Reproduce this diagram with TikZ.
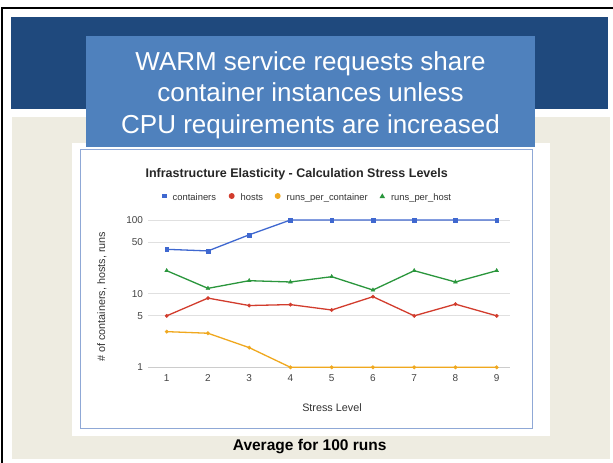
\documentclass[tikz,border=0pt]{standalone}
\usepackage{fontspec}
\setmainfont{Liberation Sans}
\usetikzlibrary{shapes.geometric, plotmarks}

\definecolor{bandblue}{HTML}{1F497D}
\definecolor{boxblue}{HTML}{4F81BD}
\definecolor{boxedge}{HTML}{C5D6EC}
\definecolor{paper}{HTML}{EEECE1}
\definecolor{chartframe}{HTML}{8FA8D6}
\definecolor{gridgray}{HTML}{E0E0E0}
\definecolor{basegray}{HTML}{CCCCCC}
\definecolor{labelgray}{HTML}{444444}
\definecolor{cblue}{HTML}{3F68D0}
\definecolor{cred}{HTML}{D23C2D}
\definecolor{corange}{HTML}{F0A81E}
\definecolor{cgreen}{HTML}{2A963C}

\tikzset{
  titletxt/.style={font=\fontsize{26}{30}\selectfont, text=white},
  charttitle/.style={font=\fontsize{12.5}{14}\selectfont\bfseries, text=black!85},
  legtxt/.style={font=\fontsize{9.4}{11}\selectfont, text=black!80},
  ticklbl/.style={font=\fontsize{10}{12}\selectfont, text=labelgray},
  axistitle/.style={font=\fontsize{10.8}{12}\selectfont, text=black!80},
  caption/.style={font=\fontsize{15.5}{18}\selectfont\bfseries, text=black},
  gridline/.style={gridgray, line width=0.9pt},
  series/.style={line width=1.3pt, mark options={solid, line width=0.3pt}},
}

\begin{document}
\begin{tikzpicture}[x=1pt, y=-1pt, every node/.style={inner sep=0pt, outer sep=0pt}]
\useasboundingbox (0,0) rectangle (613,463);
\fill[white] (0,0) rectangle (613,463);

% page frame (top and left edges)
\coordinate (fTL) at (1.8,8.2);
\coordinate (fTR) at (613,8.2);
\coordinate (fBL) at (1.8,463);
\draw[line width=1.7pt] (fTR) -- (fTL) -- (fBL);

% header band and slide body
\fill[bandblue] (11,17) rectangle (608,109);
\fill[paper] (12,117) rectangle (610,459.3);

% chart panel
\fill[white] (72,143) rectangle (550,436);
\draw[chartframe, line width=1pt] (80,149) rectangle (532,428);

% banner with the headline
\node[anchor=north west, minimum width=447pt, minimum height=109pt,
      fill=boxblue, draw=boxedge, double=boxblue, double distance=1.3pt,
      line width=0.6pt] (banner) at (87,37) {};
\node[titletxt, anchor=base] (head1) at (310.5,70) {WARM service requests share};
\node[titletxt, anchor=base] (head2) at (310.5,101.5) {container instances unless};
\node[titletxt, anchor=base] (head3) at (310.5,133) {CPU requirements are increased};

% chart title
\node[charttitle, anchor=base] (ctitle) at (296.7,177.3) {Infrastructure Elasticity - Calculation Stress Levels};

% legend
\node[fill=cblue, minimum size=4.8pt] (lm1) at (164.3,196) {};
\node[legtxt, anchor=base west] (lg1) at (172.7,200) {containers};
\node[circle, fill=cred, minimum size=6pt] (lm2) at (231.7,196) {};
\node[legtxt, anchor=base west] (lg2) at (240.7,200) {hosts};
\node[circle, fill=corange, minimum size=6pt] (lm3) at (277.7,196) {};
\node[legtxt, anchor=base west] (lg3) at (286.7,200) {runs\_per\_container};
\node[regular polygon, regular polygon sides=3, fill=cgreen, minimum size=6.4pt] (lm4) at (382.3,196.5) {};
\node[legtxt, anchor=base west] (lg4) at (391,200) {runs\_per\_host};

% log-scale grid and tick labels
\foreach \v/\c in {5/gridgray, 10/gridgray, 50/gridgray, 100/gridgray, 1/basegray} {
  \draw[gridline, draw=\c] (148,{367.3-73.65*log10(\v)}) -- (510,{367.3-73.65*log10(\v)});
  \node[ticklbl, anchor=east] (ytick\v) at (143,{367.3-73.65*log10(\v)}) {\v};
}
\foreach \i in {1,...,9} {
  \node[ticklbl] (xtick\i) at ({125.45+41.25*\i},378.5) {\i};
}

% axis titles
\node[axistitle] (xtitle) at (332,407.3) {Stress Level};
\node[axistitle, rotate=90] (ytitle) at (102,296.7) {\# of containers, hosts, runs};

% data series: x = stress level, y = log10(value)
\begin{scope}[shift={(125.45,367.3)}, x=41.25pt, y=73.65pt]
  \draw[series, cred] plot[mark=*, mark size=1.8pt] coordinates
    {(1,0.699) (2,0.9395) (3,0.8388) (4,0.8513) (5,0.7782) (6,0.959) (7,0.699) (8,0.8573) (9,0.699)};
  \draw[series, corange] plot[mark=*, mark size=1.8pt] coordinates
    {(1,0.4843) (2,0.4624) (3,0.2672) (4,0) (5,0) (6,0) (7,0) (8,0) (9,0)};
  \draw[series, cgreen] plot[mark=triangle*, mark size=2.3pt] coordinates
    {(1,1.3118) (2,1.0719) (3,1.1761) (4,1.1584) (5,1.2304) (6,1.0492) (7,1.3118) (8,1.1584) (9,1.3118)};
  \draw[series, cblue] plot[mark=square*, mark size=1.9pt] coordinates
    {(1,1.602) (2,1.580) (3,1.799) (4,2) (5,2) (6,2) (7,2) (8,2) (9,2)};
\end{scope}

% caption under the chart
\node[caption] (cap) at (309.7,446.2) {Average for 100 runs};
\end{tikzpicture}
\end{document}
